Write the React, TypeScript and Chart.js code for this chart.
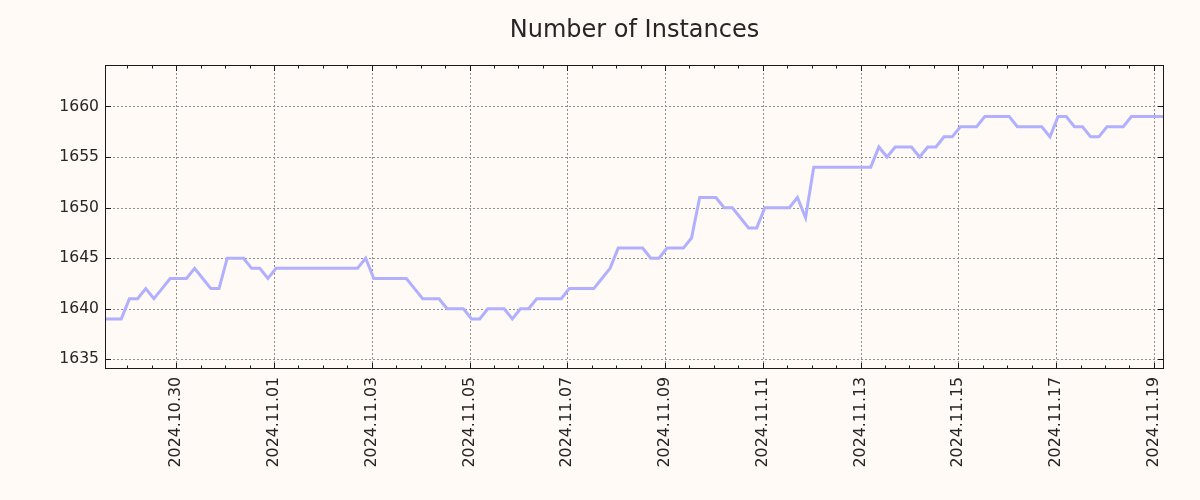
import React, { useEffect, useRef } from 'react';
import { Chart, registerables } from 'chart.js';

Chart.register(...registerables);

const TITLE = 'Number of Instances';

// Sample times (UTC) and instance counts
const times: string[] = [
  '2024-10-28 13:00', '2024-10-28 21:00', '2024-10-29 01:00', '2024-10-29 05:00',
  '2024-10-29 09:00', '2024-10-29 13:00', '2024-10-29 17:00', '2024-10-29 21:00',
  '2024-10-30 05:00', '2024-10-30 09:00', '2024-10-30 13:00', '2024-10-30 17:00',
  '2024-10-30 21:00', '2024-10-31 01:00', '2024-10-31 09:00', '2024-10-31 13:00',
  '2024-10-31 17:00', '2024-10-31 21:00', '2024-11-01 01:00', '2024-11-02 17:00',
  '2024-11-02 21:00', '2024-11-03 01:00', '2024-11-03 17:00', '2024-11-03 21:00',
  '2024-11-04 01:00', '2024-11-04 09:00', '2024-11-04 13:00', '2024-11-04 21:00',
  '2024-11-05 01:00', '2024-11-05 05:00', '2024-11-05 09:00', '2024-11-05 17:00',
  '2024-11-05 21:00', '2024-11-06 01:00', '2024-11-06 05:00', '2024-11-06 09:00',
  '2024-11-06 21:00', '2024-11-07 01:00', '2024-11-07 13:00', '2024-11-07 17:00',
  '2024-11-07 21:00', '2024-11-08 01:00', '2024-11-08 13:00', '2024-11-08 17:00',
  '2024-11-08 21:00', '2024-11-09 01:00', '2024-11-09 09:00', '2024-11-09 13:00',
  '2024-11-09 17:00', '2024-11-10 01:00', '2024-11-10 05:00', '2024-11-10 09:00',
  '2024-11-10 13:00', '2024-11-10 17:00', '2024-11-10 21:00', '2024-11-11 01:00',
  '2024-11-11 13:00', '2024-11-11 17:00', '2024-11-11 21:00', '2024-11-12 01:00',
  '2024-11-13 05:00', '2024-11-13 09:00', '2024-11-13 13:00', '2024-11-13 17:00',
  '2024-11-14 01:00', '2024-11-14 05:00', '2024-11-14 09:00', '2024-11-14 13:00',
  '2024-11-14 17:00', '2024-11-14 21:00', '2024-11-15 01:00', '2024-11-15 09:00',
  '2024-11-15 13:00', '2024-11-16 01:00', '2024-11-16 05:00', '2024-11-16 17:00',
  '2024-11-16 21:00', '2024-11-17 01:00', '2024-11-17 05:00', '2024-11-17 09:00',
  '2024-11-17 13:00', '2024-11-17 17:00', '2024-11-17 21:00', '2024-11-18 01:00',
  '2024-11-18 09:00', '2024-11-18 13:00', '2024-11-19 05:00',
];

const values: number[] = [
  1639, 1639, 1641, 1641,
  1642, 1641, 1642, 1643,
  1643, 1644, 1643, 1642,
  1642, 1645, 1645, 1644,
  1644, 1643, 1644, 1644,
  1645, 1643, 1643, 1642,
  1641, 1641, 1640, 1640,
  1639, 1639, 1640, 1640,
  1639, 1640, 1640, 1641,
  1641, 1642, 1642, 1643,
  1644, 1646, 1646, 1645,
  1645, 1646, 1646, 1647,
  1651, 1651, 1650, 1650,
  1649, 1648, 1648, 1650,
  1650, 1651, 1649, 1654,
  1654, 1656, 1655, 1656,
  1656, 1655, 1656, 1656,
  1657, 1657, 1658, 1658,
  1659, 1659, 1658, 1658,
  1657, 1659, 1659, 1658,
  1658, 1657, 1657, 1658,
  1658, 1659, 1659,
];

const yTicks: number[] = [1635, 1640, 1645, 1650, 1655, 1660];
const Y_MIN = 1634.05;
const Y_MAX = 1664.1;

const xMajorDates: string[] = [
  '2024-10-30', '2024-11-01', '2024-11-03', '2024-11-05', '2024-11-07',
  '2024-11-09', '2024-11-11', '2024-11-13', '2024-11-15', '2024-11-17', '2024-11-19',
];

const toMs = (s: string): number => {
  const [d, t = '00:00'] = s.split(' ');
  const [Y, M, D] = d.split('-').map(Number);
  const [h, m] = t.split(':').map(Number);
  return Date.UTC(Y, M - 1, D, h, m);
};

const fmt = (ms: number): string => {
  const d = new Date(ms);
  const p = (n: number) => String(n).padStart(2, '0');
  return `${d.getUTCFullYear()}.${p(d.getUTCMonth() + 1)}.${p(d.getUTCDate())}`;
};

const BG = '#fffaf5';
const TEXT = '#262626';
const FONT = '"DejaVu Sans", sans-serif';
const HALF_DAY = 12 * 3600 * 1000;

export default function App() {
  const ref = useRef<HTMLCanvasElement | null>(null);

  useEffect(() => {
    document.body.style.margin = '0';
    document.body.style.background = BG;
    const canvas = ref.current;
    if (!canvas) return;

    const xMin = toMs(times[0]);
    const xMax = toMs(times[times.length - 1]);
    const majors = xMajorDates.map(toMs);
    const majorSet = new Set(majors);
    const minors: number[] = [];
    for (let v = Math.ceil(xMin / HALF_DAY) * HALF_DAY; v <= xMax; v += HALF_DAY) minors.push(v);

    const framePlugin = {
      id: 'frame',
      beforeDatasetsDraw(chart: any) {
        const { ctx, chartArea: a, scales } = chart;
        ctx.save();
        ctx.strokeStyle = '#8f8f8f';
        ctx.lineWidth = 1;
        ctx.setLineDash([2, 2]);
        majors.forEach((v) => {
          const x = Math.round(scales.x.getPixelForValue(v)) + 0.5;
          ctx.beginPath();
          ctx.moveTo(x, a.top);
          ctx.lineTo(x, a.bottom);
          ctx.stroke();
        });
        yTicks.forEach((v) => {
          const y = Math.round(scales.y.getPixelForValue(v)) + 0.5;
          ctx.beginPath();
          ctx.moveTo(a.left, y);
          ctx.lineTo(a.right, y);
          ctx.stroke();
        });
        ctx.restore();
      },
      afterDatasetsDraw(chart: any) {
        const { ctx, chartArea: a, scales } = chart;
        ctx.save();
        ctx.strokeStyle = '#1a1a1a';
        ctx.lineWidth = 1;
        ctx.setLineDash([]);
        const L = Math.round(a.left) + 0.5;
        const R = Math.round(a.right) - 0.5;
        const T = Math.round(a.top) + 0.5;
        const B = Math.round(a.bottom) - 0.5;
        ctx.strokeRect(L, T, R - L, B - T);
        ctx.beginPath();
        minors.forEach((v) => {
          const x = Math.round(scales.x.getPixelForValue(v)) + 0.5;
          const len = majorSet.has(v) ? 5.5 : 3;
          ctx.moveTo(x, B);
          ctx.lineTo(x, B - len);
          ctx.moveTo(x, T);
          ctx.lineTo(x, T + len);
        });
        yTicks.forEach((v) => {
          const y = Math.round(scales.y.getPixelForValue(v)) + 0.5;
          ctx.moveTo(L, y);
          ctx.lineTo(L + 5.5, y);
          ctx.moveTo(R, y);
          ctx.lineTo(R - 5.5, y);
        });
        ctx.stroke();
        ctx.restore();
      },
      afterDraw(chart: any) {
        const { ctx, chartArea: a } = chart;
        ctx.save();
        ctx.fillStyle = TEXT;
        ctx.font = `24px ${FONT}`;
        ctx.textAlign = 'center';
        ctx.textBaseline = 'middle';
        ctx.fillText(TITLE, (a.left + a.right) / 2, 31);
        ctx.restore();
      },
    };

    const chart = new Chart(canvas, {
      type: 'line',
      data: {
        datasets: [
          {
            data: times.map((t, i) => ({ x: toMs(t), y: values[i] })),
            borderColor: '#b0b0ff',
            borderWidth: 3,
            pointRadius: 0,
            tension: 0,
            fill: false,
          },
        ],
      },
      options: {
        responsive: false,
        animation: false,
        layout: { padding: { top: 65, right: 36, left: 0, bottom: 0 } },
        plugins: {
          legend: { display: false },
          tooltip: { enabled: false },
          title: { display: false },
        },
        scales: {
          x: {
            type: 'linear',
            min: xMin,
            max: xMax,
            afterBuildTicks: (s: any) => {
              s.ticks = minors.map((v) => ({ value: v }));
            },
            afterFit: (s: any) => {
              s.height = 131;
            },
            grid: { display: false, drawTicks: false },
            border: { display: false },
            ticks: {
              autoSkip: false,
              maxRotation: 90,
              minRotation: 90,
              padding: 8,
              color: TEXT,
              font: { family: FONT, size: 15.8 },
              callback: (v: any) => (majorSet.has(Number(v)) ? fmt(Number(v)) : ''),
            },
          },
          y: {
            type: 'linear',
            min: Y_MIN,
            max: Y_MAX,
            afterBuildTicks: (s: any) => {
              s.ticks = yTicks.map((v) => ({ value: v }));
            },
            afterFit: (s: any) => {
              s.width = 105;
            },
            grid: { display: false, drawTicks: false },
            border: { display: false },
            ticks: {
              padding: 6,
              color: TEXT,
              font: { family: FONT, size: 15.6 },
              callback: (v: any) => String(v),
            },
          },
        },
      },
      plugins: [framePlugin],
    });

    return () => chart.destroy();
  }, []);

  return (
    <canvas
      ref={ref}
      width={1200}
      height={500}
      style={{ display: 'block', width: 1200, height: 500, background: BG }}
    />
  );
}
